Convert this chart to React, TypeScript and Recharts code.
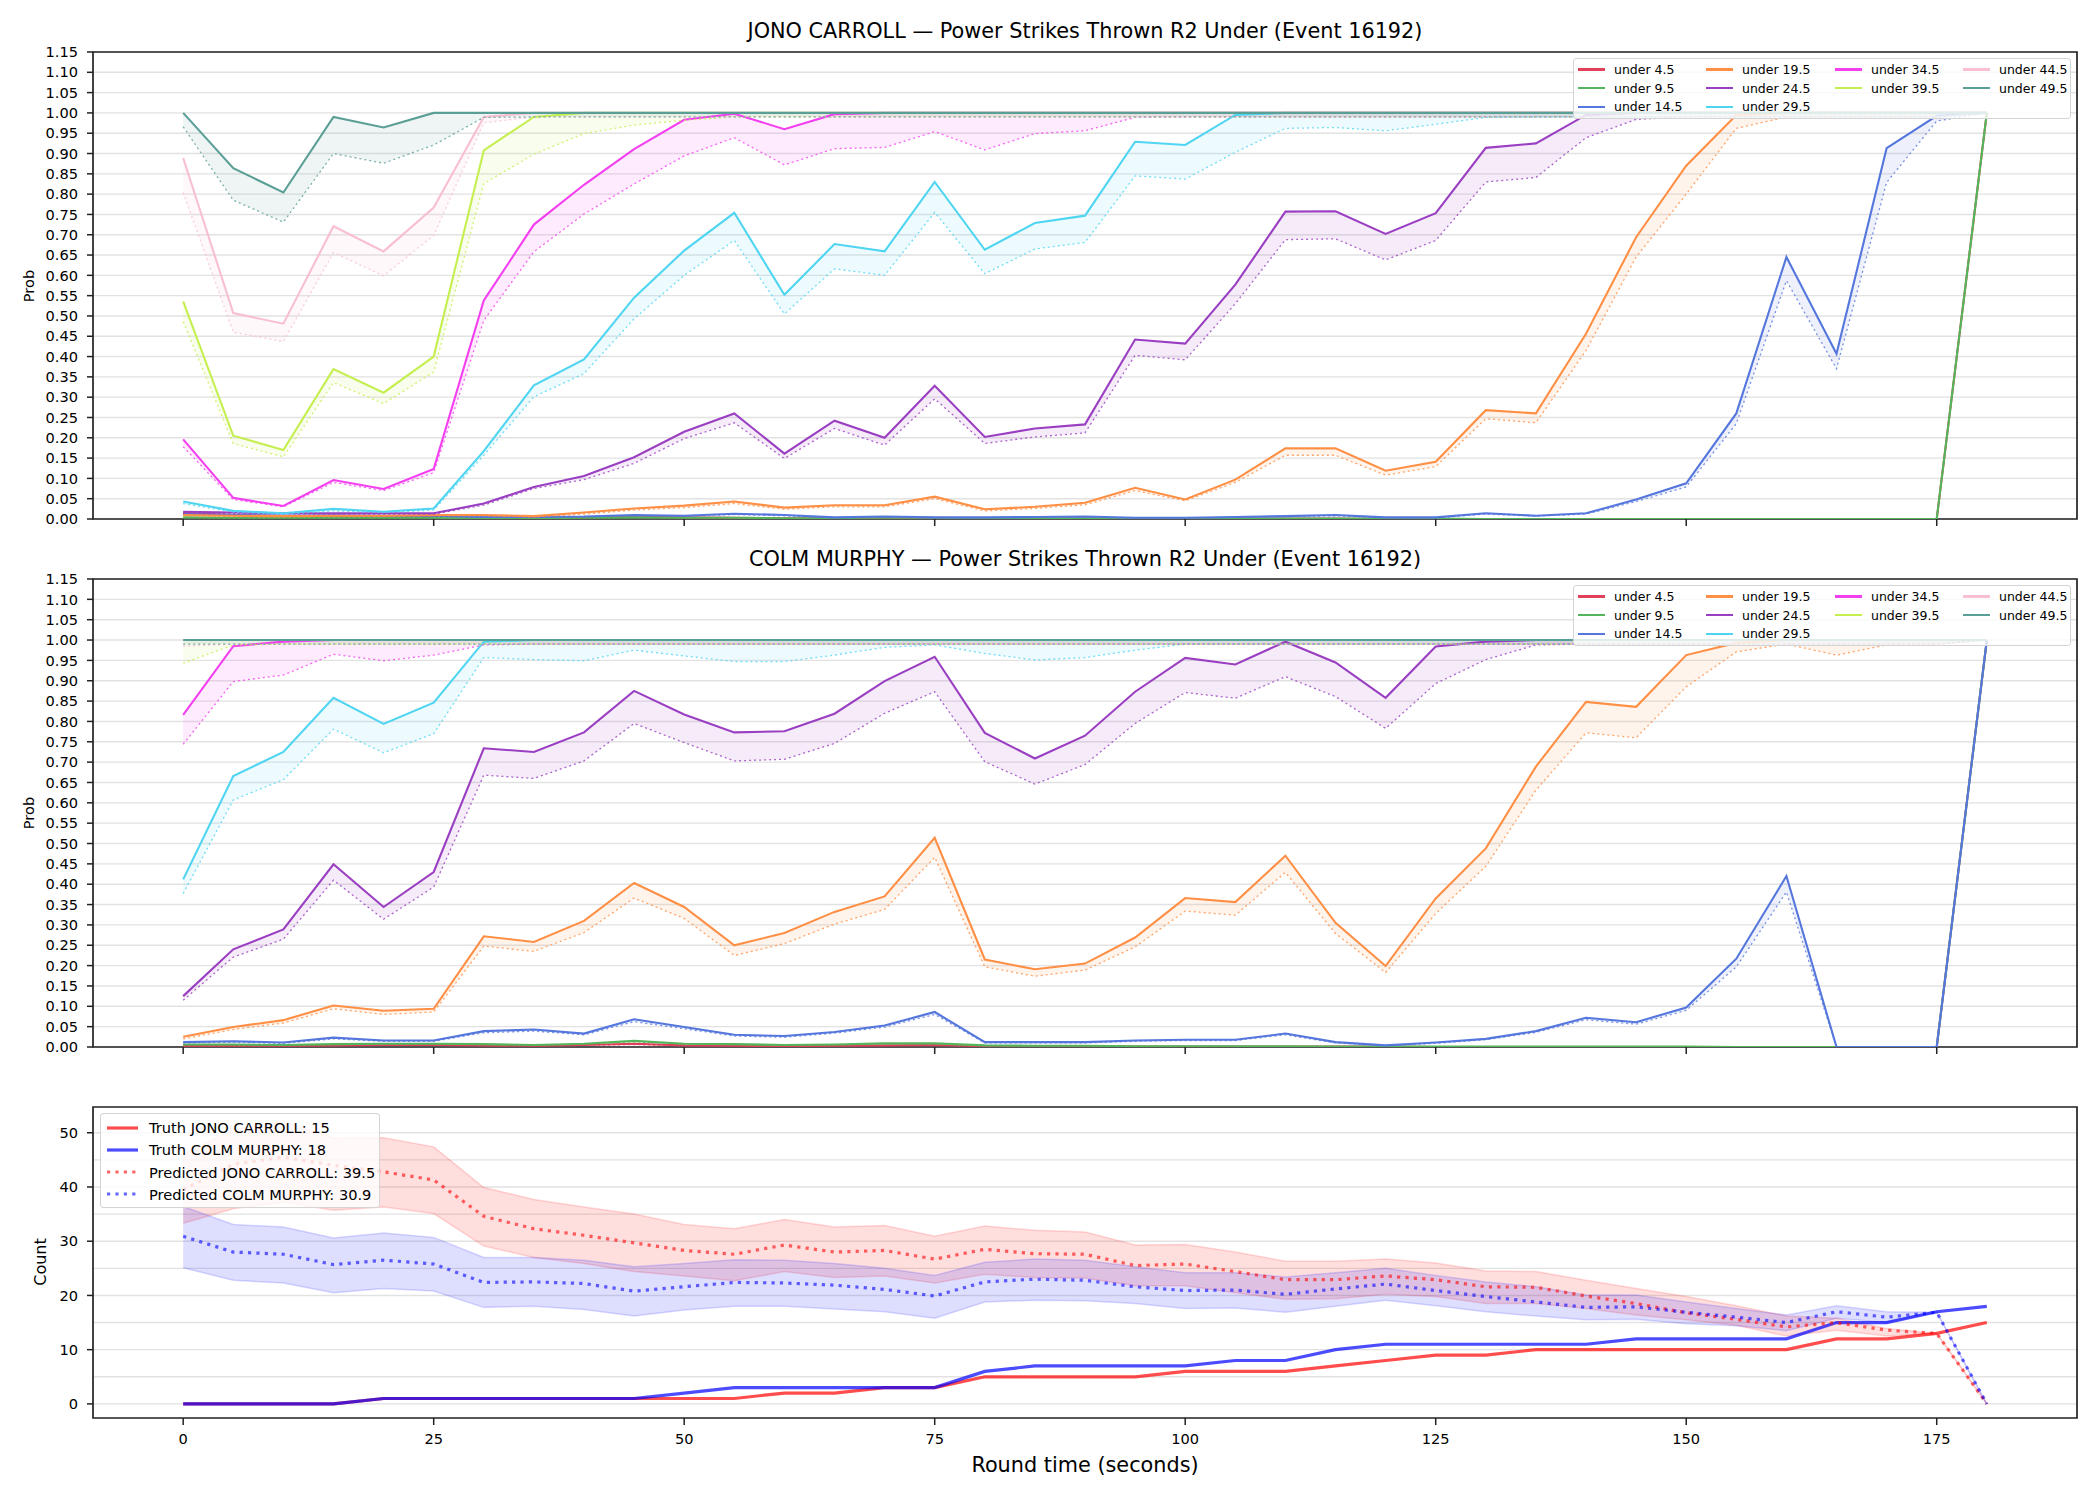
import React from 'react';
import { ComposedChart, Line, Area, XAxis, YAxis, CartesianGrid, ReferenceArea } from 'recharts';

const FONT = '"DejaVu Sans", Verdana, sans-serif';

// Round time (seconds)
const TIME = [
  0, 5, 10, 15, 20, 25, 30, 35, 40, 45,
  50, 55, 60, 65, 70, 75, 80, 85, 90, 95,
  100, 105, 110, 115, 120, 125, 130, 135, 140, 145,
  150, 155, 160, 165, 170, 175, 180,
];

const X_TICKS = [0, 25, 50, 75, 100, 125, 150, 175];
const PROB_TICKS = [0, 0.05, 0.1, 0.15, 0.2, 0.25, 0.3, 0.35, 0.4, 0.45, 0.5, 0.55, 0.6, 0.65, 0.7, 0.75, 0.8, 0.85, 0.9, 0.95, 1, 1.05, 1.1, 1.15];
const COUNT_TICKS = [0, 10, 20, 30, 40, 50];
const COUNT_GRID = [0, 5, 10, 15, 20, 25, 30, 35, 40, 45, 50];

const LINE_NAMES = ['under 4.5', 'under 9.5', 'under 14.5', 'under 19.5', 'under 24.5', 'under 29.5', 'under 34.5', 'under 39.5', 'under 44.5', 'under 49.5'];
const LINE_COLORS = ['#e23f5b', '#55b55a', '#5577dd', '#ff8f45', '#9a3fc2', '#4fd5f2', '#f43ff0', '#c4ef4f', '#f8bfd0', '#5a9f96'];

// ---------- JONO CARROLL: solid (s) and dotted (d) probability per threshold ----------
const jonoU4s = [
  0.015, 0.010, 0.007, 0.006, 0.005, 0.005, 0.004, 0.003, 0.004, 0.006,
  0.004, 0.003, 0.002, 0.002, 0.002, 0.002, 0.001, 0.001, 0.001, 0.001,
  0.001, 0.001, 0.001, 0.001, 0, 0, 0, 0, 0, 0,
  0, 0, 0, 0, 0, 0, 1,
];
const jonoU4d = [
  0.012, 0.008, 0.006, 0.005, 0.004, 0.004, 0.003, 0.002, 0.003, 0.005,
  0.003, 0.002, 0.002, 0.001, 0.001, 0.001, 0.001, 0.001, 0.001, 0.001,
  0, 0, 0, 0, 0, 0, 0, 0, 0, 0,
  0, 0, 0, 0, 0, 0, 1,
];
const jonoU9s = [
  0.004, 0.003, 0.003, 0.003, 0.003, 0.003, 0.002, 0.002, 0.003, 0.004,
  0.003, 0.003, 0.002, 0.002, 0.004, 0.003, 0.002, 0.002, 0.002, 0.001,
  0.001, 0.001, 0.001, 0.001, 0.001, 0.001, 0, 0, 0, 0,
  0, 0, 0, 0, 0, 0, 1,
];
const jonoU9d = [
  0.003, 0.002, 0.002, 0.002, 0.002, 0.002, 0.002, 0.001, 0.002, 0.003,
  0.002, 0.002, 0.001, 0.001, 0.003, 0.002, 0.001, 0.001, 0.001, 0.001,
  0, 0, 0, 0, 0, 0, 0, 0, 0, 0,
  0, 0, 0, 0, 0, 0, 1,
];
const jonoU14s = [
  0.012, 0.010, 0.008, 0.009, 0.008, 0.008, 0.005, 0.005, 0.006, 0.010,
  0.008, 0.013, 0.010, 0.004, 0.006, 0.004, 0.004, 0.005, 0.006, 0.003,
  0.003, 0.005, 0.007, 0.010, 0.004, 0.004, 0.014, 0.008, 0.014, 0.048,
  0.088, 0.260, 0.645, 0.407, 0.913, 0.993, 1,
];
const jonoU14d = [
  0.010, 0.008, 0.007, 0.007, 0.006, 0.006, 0.004, 0.004, 0.005, 0.008,
  0.007, 0.011, 0.008, 0.003, 0.005, 0.003, 0.003, 0.004, 0.005, 0.002,
  0.002, 0.004, 0.006, 0.008, 0.003, 0.003, 0.012, 0.007, 0.012, 0.043,
  0.079, 0.235, 0.587, 0.370, 0.829, 0.980, 1,
];
const jonoU19s = [
  0.010, 0.008, 0.007, 0.008, 0.008, 0.010, 0.010, 0.007, 0.016, 0.026,
  0.033, 0.043, 0.028, 0.034, 0.034, 0.055, 0.024, 0.030, 0.040, 0.077,
  0.048, 0.097, 0.174, 0.174, 0.119, 0.141, 0.268, 0.260, 0.456, 0.694,
  0.870, 0.995, 1, 1, 1, 1, 1,
];
const jonoU19d = [
  0.008, 0.006, 0.005, 0.006, 0.006, 0.008, 0.008, 0.005, 0.012, 0.022,
  0.028, 0.038, 0.024, 0.030, 0.030, 0.050, 0.020, 0.026, 0.035, 0.070,
  0.045, 0.090, 0.157, 0.157, 0.108, 0.129, 0.247, 0.237, 0.415, 0.645,
  0.800, 0.962, 0.990, 0.990, 0.990, 0.990, 1,
];
const jonoU24s = [
  0.018, 0.016, 0.014, 0.014, 0.014, 0.014, 0.038, 0.079, 0.106, 0.152,
  0.215, 0.260, 0.161, 0.242, 0.200, 0.328, 0.202, 0.223, 0.233, 0.442,
  0.432, 0.577, 0.757, 0.758, 0.702, 0.753, 0.914, 0.925, 0.995, 1,
  1, 1, 1, 1, 1, 1, 1,
];
const jonoU24d = [
  0.014, 0.013, 0.012, 0.012, 0.012, 0.012, 0.034, 0.075, 0.097, 0.137,
  0.198, 0.237, 0.149, 0.223, 0.182, 0.296, 0.186, 0.202, 0.212, 0.403,
  0.392, 0.530, 0.688, 0.690, 0.638, 0.686, 0.830, 0.841, 0.939, 0.984,
  0.990, 0.990, 0.990, 0.990, 0.990, 0.990, 1,
];
const jonoU29s = [
  0.043, 0.020, 0.014, 0.025, 0.018, 0.026, 0.167, 0.329, 0.393, 0.545,
  0.661, 0.754, 0.552, 0.677, 0.659, 0.830, 0.663, 0.729, 0.747, 0.929,
  0.921, 0.995, 1, 1, 1, 1, 1, 1, 1, 1,
  1, 1, 1, 1, 1, 1, 1,
];
const jonoU29d = [
  0.038, 0.017, 0.011, 0.020, 0.016, 0.022, 0.157, 0.301, 0.358, 0.493,
  0.600, 0.686, 0.505, 0.616, 0.600, 0.755, 0.604, 0.665, 0.681, 0.845,
  0.837, 0.903, 0.962, 0.964, 0.956, 0.972, 0.989, 0.990, 0.990, 0.990,
  0.990, 0.990, 0.990, 0.990, 0.990, 0.990, 1,
];
const jonoU34s = [
  0.196, 0.052, 0.032, 0.096, 0.074, 0.123, 0.538, 0.725, 0.823, 0.911,
  0.983, 0.998, 0.960, 0.997, 1, 1, 1, 1, 1, 1,
  1, 1, 1, 1, 1, 1, 1, 1, 1, 1,
  1, 1, 1, 1, 1, 1, 1,
];
const jonoU34d = [
  0.178, 0.048, 0.030, 0.090, 0.070, 0.114, 0.489, 0.658, 0.751, 0.825,
  0.894, 0.939, 0.872, 0.912, 0.915, 0.954, 0.909, 0.949, 0.956, 0.989,
  0.990, 0.990, 0.990, 0.990, 0.990, 0.990, 0.990, 0.990, 0.990, 0.990,
  0.990, 0.990, 0.990, 0.990, 0.990, 0.990, 1,
];
const jonoU39s = [
  0.536, 0.205, 0.170, 0.369, 0.311, 0.400, 0.908, 0.990, 1, 1,
  1, 1, 1, 1, 1, 1, 1, 1, 1, 1,
  1, 1, 1, 1, 1, 1, 1, 1, 1, 1,
  1, 1, 1, 1, 1, 1, 1,
];
const jonoU39d = [
  0.486, 0.186, 0.153, 0.336, 0.284, 0.362, 0.826, 0.898, 0.949, 0.970,
  0.982, 0.990, 0.990, 0.990, 0.990, 0.990, 0.990, 0.990, 0.990, 0.990,
  0.990, 0.990, 0.990, 0.990, 0.990, 0.990, 0.990, 0.990, 0.990, 0.990,
  0.990, 0.990, 0.990, 0.990, 0.990, 0.990, 1,
];
const jonoU44s = [
  0.889, 0.507, 0.481, 0.721, 0.659, 0.767, 0.990, 1, 1, 1,
  1, 1, 1, 1, 1, 1, 1, 1, 1, 1,
  1, 1, 1, 1, 1, 1, 1, 1, 1, 1,
  1, 1, 1, 1, 1, 1, 1,
];
const jonoU44d = [
  0.804, 0.460, 0.437, 0.656, 0.599, 0.698, 0.976, 0.990, 0.990, 0.990,
  0.990, 0.990, 0.990, 0.990, 0.990, 0.990, 0.990, 0.990, 0.990, 0.990,
  0.990, 0.990, 0.990, 0.990, 0.990, 0.990, 0.990, 0.990, 0.990, 0.990,
  0.990, 0.990, 0.990, 0.990, 0.990, 0.990, 1,
];
const jonoU49s = [
  1, 0.864, 0.804, 0.990, 0.964, 1, 1, 1, 1, 1,
  1, 1, 1, 1, 1, 1, 1, 1, 1, 1,
  1, 1, 1, 1, 1, 1, 1, 1, 1, 1,
  1, 1, 1, 1, 1, 1, 1,
];
const jonoU49d = [
  0.966, 0.785, 0.731, 0.900, 0.876, 0.921, 0.989, 0.990, 0.990, 0.990,
  0.990, 0.990, 0.990, 0.990, 0.990, 0.990, 0.990, 0.990, 0.990, 0.990,
  0.990, 0.990, 0.990, 0.990, 0.990, 0.990, 0.990, 0.990, 0.990, 0.990,
  0.990, 0.990, 0.990, 0.990, 0.990, 0.990, 1,
];

// ---------- COLM MURPHY ----------
const colmU4s = [
  0.003, 0.003, 0.003, 0.004, 0.005, 0.005, 0.004, 0.003, 0.005, 0.008,
  0.004, 0.003, 0.002, 0.003, 0.004, 0.005, 0.002, 0.001, 0.001, 0.001,
  0.001, 0.001, 0.001, 0.001, 0.001, 0, 0, 0, 0, 0,
  0, 0, 0, 0, 0, 0, 1,
];
const colmU4d = [
  0.002, 0.002, 0.002, 0.003, 0.004, 0.004, 0.003, 0.002, 0.004, 0.006,
  0.003, 0.002, 0.001, 0.002, 0.003, 0.004, 0.001, 0.001, 0.001, 0.001,
  0, 0, 0, 0, 0, 0, 0, 0, 0, 0,
  0, 0, 0, 0, 0, 0, 1,
];
const colmU9s = [
  0.006, 0.006, 0.005, 0.007, 0.008, 0.008, 0.007, 0.005, 0.008, 0.015,
  0.008, 0.007, 0.005, 0.006, 0.009, 0.009, 0.004, 0.003, 0.003, 0.002,
  0.002, 0.002, 0.002, 0.001, 0.001, 0.001, 0.001, 0.001, 0.001, 0.001,
  0.001, 0, 0, 0, 0, 0, 1,
];
const colmU9d = [
  0.005, 0.005, 0.004, 0.006, 0.007, 0.007, 0.006, 0.004, 0.007, 0.013,
  0.007, 0.006, 0.004, 0.005, 0.008, 0.008, 0.003, 0.002, 0.002, 0.002,
  0.001, 0.001, 0.001, 0.001, 0.001, 0, 0, 0, 0, 0,
  0, 0, 0, 0, 0, 0, 1,
];
const colmU14s = [
  0.012, 0.014, 0.011, 0.023, 0.016, 0.016, 0.039, 0.043, 0.033, 0.068,
  0.049, 0.030, 0.027, 0.037, 0.053, 0.086, 0.012, 0.012, 0.012, 0.016,
  0.018, 0.018, 0.033, 0.012, 0.004, 0.011, 0.020, 0.039, 0.072, 0.061,
  0.097, 0.217, 0.420, 0, 0, 0, 1,
];
const colmU14d = [
  0.010, 0.012, 0.009, 0.020, 0.014, 0.014, 0.035, 0.039, 0.030, 0.062,
  0.045, 0.027, 0.024, 0.034, 0.049, 0.080, 0.010, 0.010, 0.010, 0.014,
  0.016, 0.016, 0.030, 0.010, 0.003, 0.009, 0.018, 0.036, 0.067, 0.056,
  0.090, 0.197, 0.381, 0, 0, 0, 1,
];
const colmU19s = [
  0.025, 0.049, 0.066, 0.102, 0.089, 0.094, 0.272, 0.258, 0.310, 0.403,
  0.344, 0.250, 0.280, 0.332, 0.370, 0.514, 0.215, 0.191, 0.205, 0.269,
  0.366, 0.356, 0.470, 0.305, 0.199, 0.365, 0.488, 0.689, 0.848, 0.836,
  0.963, 0.993, 1, 1, 1, 1, 1,
];
const colmU19d = [
  0.020, 0.043, 0.059, 0.094, 0.080, 0.086, 0.248, 0.235, 0.281, 0.366,
  0.316, 0.225, 0.254, 0.302, 0.338, 0.466, 0.197, 0.174, 0.189, 0.246,
  0.334, 0.324, 0.429, 0.279, 0.183, 0.328, 0.444, 0.631, 0.772, 0.760,
  0.885, 0.971, 0.990, 0.963, 0.988, 0.990, 1,
];
const colmU24s = [
  0.125, 0.240, 0.289, 0.449, 0.344, 0.430, 0.734, 0.725, 0.773, 0.875,
  0.817, 0.773, 0.776, 0.819, 0.899, 0.959, 0.772, 0.709, 0.765, 0.873,
  0.956, 0.940, 0.996, 0.945, 0.858, 0.984, 0.996, 1, 1, 1,
  1, 1, 1, 1, 1, 1, 1,
];
const colmU24d = [
  0.115, 0.221, 0.265, 0.410, 0.314, 0.393, 0.668, 0.660, 0.703, 0.795,
  0.748, 0.703, 0.707, 0.746, 0.820, 0.873, 0.701, 0.646, 0.694, 0.795,
  0.871, 0.857, 0.910, 0.861, 0.783, 0.893, 0.952, 0.988, 0.990, 0.990,
  0.990, 0.990, 0.990, 0.990, 0.990, 0.990, 1,
];
const colmU29s = [
  0.412, 0.666, 0.725, 0.858, 0.794, 0.846, 0.996, 1, 1, 1,
  1, 1, 1, 1, 1, 1, 1, 1, 1, 1,
  1, 1, 1, 1, 1, 1, 1, 1, 1, 1,
  1, 1, 1, 1, 1, 1, 1,
];
const colmU29d = [
  0.377, 0.607, 0.657, 0.781, 0.723, 0.770, 0.957, 0.952, 0.949, 0.975,
  0.961, 0.947, 0.947, 0.963, 0.982, 0.988, 0.967, 0.951, 0.957, 0.975,
  0.990, 0.990, 0.990, 0.990, 0.990, 0.990, 0.990, 0.990, 0.990, 0.990,
  0.990, 0.990, 0.990, 0.990, 0.990, 0.990, 1,
];
const colmU34s = [
  0.816, 0.985, 0.996, 1, 1, 1, 1, 1, 1, 1,
  1, 1, 1, 1, 1, 1, 1, 1, 1, 1,
  1, 1, 1, 1, 1, 1, 1, 1, 1, 1,
  1, 1, 1, 1, 1, 1, 1,
];
const colmU34d = [
  0.744, 0.898, 0.914, 0.965, 0.949, 0.963, 0.988, 0.990, 0.990, 0.990,
  0.990, 0.990, 0.990, 0.990, 0.990, 0.990, 0.990, 0.990, 0.990, 0.990,
  0.990, 0.990, 0.990, 0.990, 0.990, 0.990, 0.990, 0.990, 0.990, 0.990,
  0.990, 0.990, 0.990, 0.990, 0.990, 0.990, 1,
];
const colmU39s = [
  1, 1, 1, 1, 1, 1, 1, 1, 1, 1,
  1, 1, 1, 1, 1, 1, 1, 1, 1, 1,
  1, 1, 1, 1, 1, 1, 1, 1, 1, 1,
  1, 1, 1, 1, 1, 1, 1,
];
const colmU39d = [
  0.943, 0.988, 0.990, 0.990, 0.990, 0.990, 0.990, 0.990, 0.990, 0.990,
  0.990, 0.990, 0.990, 0.990, 0.990, 0.990, 0.990, 0.990, 0.990, 0.990,
  0.990, 0.990, 0.990, 0.990, 0.990, 0.990, 0.990, 0.990, 0.990, 0.990,
  0.990, 0.990, 0.990, 0.990, 0.990, 0.990, 1,
];
const colmU44s = [
  1, 1, 1, 1, 1, 1, 1, 1, 1, 1,
  1, 1, 1, 1, 1, 1, 1, 1, 1, 1,
  1, 1, 1, 1, 1, 1, 1, 1, 1, 1,
  1, 1, 1, 1, 1, 1, 1,
];
const colmU44d = [
  0.985, 0.990, 0.990, 0.990, 0.990, 0.990, 0.990, 0.990, 0.990, 0.990,
  0.990, 0.990, 0.990, 0.990, 0.990, 0.990, 0.990, 0.990, 0.990, 0.990,
  0.990, 0.990, 0.990, 0.990, 0.990, 0.990, 0.990, 0.990, 0.990, 0.990,
  0.990, 0.990, 0.990, 0.990, 0.990, 0.990, 1,
];
const colmU49s = [
  1, 1, 1, 1, 1, 1, 1, 1, 1, 1,
  1, 1, 1, 1, 1, 1, 1, 1, 1, 1,
  1, 1, 1, 1, 1, 1, 1, 1, 1, 1,
  1, 1, 1, 1, 1, 1, 1,
];
const colmU49d = [
  0.990, 0.990, 0.990, 0.990, 0.990, 0.990, 0.990, 0.990, 0.990, 0.990,
  0.990, 0.990, 0.990, 0.990, 0.990, 0.990, 0.990, 0.990, 0.990, 0.990,
  0.990, 0.990, 0.990, 0.990, 0.990, 0.990, 0.990, 0.990, 0.990, 0.990,
  0.990, 0.990, 0.990, 0.990, 0.990, 0.990, 1,
];

// ---------- Counts ----------
const truthJono = [
  0, 0, 0, 0, 1, 1, 1, 1, 1, 1,
  1, 1, 2, 2, 3, 3, 5, 5, 5, 5,
  6, 6, 6, 7, 8, 9, 9, 10, 10, 10,
  10, 10, 10, 12, 12, 13, 15,
];
const truthColm = [
  0, 0, 0, 0, 1, 1, 1, 1, 1, 1,
  2, 3, 3, 3, 3, 3, 6, 7, 7, 7,
  7, 8, 8, 10, 11, 11, 11, 11, 11, 12,
  12, 12, 12, 15, 15, 17, 18,
];
const predJono = [
  39.5, 44.2, 45.5, 44.0, 42.8, 41.3, 34.6, 32.3, 31.1, 29.7,
  28.3, 27.6, 29.3, 28.0, 28.3, 26.7, 28.5, 27.7, 27.6, 25.5,
  25.8, 24.4, 22.9, 22.9, 23.6, 22.9, 21.6, 21.5, 19.9, 18.5,
  16.8, 15.6, 14.2, 15.0, 13.6, 13.0, 0,
];
const predJonoHigh = [
  46.0, 50.5, 52.1, 49.0, 49.1, 47.4, 39.9, 37.7, 36.3, 35.0,
  33.1, 32.3, 34.0, 32.6, 32.9, 30.9, 32.8, 32.0, 31.7, 29.3,
  29.4, 28.0, 26.3, 26.3, 26.7, 26.0, 24.5, 24.4, 22.8, 21.3,
  19.8, 18.1, 16.2, 15.8, 13.9, 13.0, 0,
];
const predJonoLow = [
  33.3, 36.0, 37.2, 35.7, 36.3, 35.1, 29.1, 27.0, 25.9, 24.4,
  23.6, 22.7, 24.4, 23.3, 23.6, 22.3, 23.9, 23.3, 23.2, 21.8,
  21.8, 20.5, 19.3, 19.4, 20.2, 19.8, 18.5, 18.5, 17.6, 16.4,
  15.5, 14.5, 12.5, 13.6, 12.5, 13.0, 0,
];
const predColm = [
  30.9, 28.0, 27.6, 25.7, 26.5, 25.8, 22.4, 22.5, 22.2, 20.8,
  21.6, 22.4, 22.3, 21.9, 21.1, 19.9, 22.5, 23.0, 22.8, 21.6,
  20.9, 21.0, 20.2, 21.2, 22.1, 20.9, 19.8, 18.8, 17.8, 17.9,
  16.9, 16.0, 15.0, 17.0, 16.0, 16.9, 0,
];
const predColmHigh = [
  36.4, 33.1, 32.6, 30.6, 31.5, 30.7, 27.0, 27.0, 26.5, 25.3,
  25.9, 26.6, 26.5, 25.9, 25.0, 23.7, 26.1, 26.7, 26.5, 25.3,
  24.2, 24.2, 23.4, 24.2, 25.0, 23.7, 22.5, 21.6, 20.1, 20.1,
  18.8, 17.6, 16.4, 18.1, 17.0, 16.9, 0,
];
const predColmLow = [
  25.1, 22.8, 22.3, 20.5, 21.3, 20.8, 17.8, 18.0, 17.4, 16.2,
  17.3, 18.0, 18.0, 17.5, 17.0, 15.8, 18.8, 19.1, 19.0, 18.5,
  17.6, 17.7, 16.9, 18.0, 19.1, 18.1, 17.0, 16.2, 15.5, 15.6,
  14.8, 14.4, 13.5, 15.8, 15.0, 16.9, 0,
];

const JONO_SOLID = [jonoU4s, jonoU9s, jonoU14s, jonoU19s, jonoU24s, jonoU29s, jonoU34s, jonoU39s, jonoU44s, jonoU49s];
const JONO_DOTTED = [jonoU4d, jonoU9d, jonoU14d, jonoU19d, jonoU24d, jonoU29d, jonoU34d, jonoU39d, jonoU44d, jonoU49d];
const COLM_SOLID = [colmU4s, colmU9s, colmU14s, colmU19s, colmU24s, colmU29s, colmU34s, colmU39s, colmU44s, colmU49s];
const COLM_DOTTED = [colmU4d, colmU9d, colmU14d, colmU19d, colmU24d, colmU29d, colmU34d, colmU39d, colmU44d, colmU49d];

function buildProbRows(solid: number[][], dotted: number[][]) {
  return TIME.map((t, i) => {
    const row: Record<string, any> = { t };
    solid.forEach((arr, k) => {
      row[`s${k}`] = arr[i];
      row[`d${k}`] = dotted[k][i];
      row[`b${k}`] = [dotted[k][i], arr[i]];
    });
    return row;
  });
}

const jonoRows = buildProbRows(JONO_SOLID, JONO_DOTTED);
const colmRows = buildProbRows(COLM_SOLID, COLM_DOTTED);
const countRows = TIME.map((t, i) => ({
  t,
  truthJono: truthJono[i],
  truthColm: truthColm[i],
  predJono: predJono[i],
  predColm: predColm[i],
  bandJono: [predJonoLow[i], predJonoHigh[i]],
  bandColm: [predColmLow[i], predColmHigh[i]],
}));

const PLOT_LEFT = 93;
const PLOT_RIGHT = 2077;
const X_DOMAIN: [number, number] = [-9, 189];
const TICK_STYLE = { fill: '#000', fontSize: 14.6, fontFamily: FONT };
const AXIS_STROKE = '#222';

function ProbLegend({ top }: { top: number }) {
  const colX = [4, 132, 261, 389];
  const rowY = [10.5, 29.2, 47.8];
  const placement = [[0, 0], [0, 1], [0, 2], [1, 0], [1, 1], [1, 2], [2, 0], [2, 1], [3, 0], [3, 1]];
  return (
    <div style={{ position: 'absolute', left: 1573, top, width: 498, height: 61, background: 'rgba(255,255,255,0.8)', border: '1px solid #d4d4d4', borderRadius: 3, boxSizing: 'border-box', fontFamily: FONT, fontSize: 12.5 }}>
      {LINE_NAMES.map((name, i) => {
        const [c, r] = placement[i];
        return (
          <div key={name} style={{ position: 'absolute', left: colX[c], top: rowY[r] - 8, height: 16, display: 'flex', alignItems: 'center', whiteSpace: 'nowrap', color: '#000' }}>
            <div style={{ width: 27, height: 2.2, background: LINE_COLORS[i], marginRight: 9 }} />
            <span>{name}</span>
          </div>
        );
      })}
    </div>
  );
}

function ProbPanel({ rows, top, marginTop, marginBottom, title, titleCenter, legendTop, labelCenter }: any) {
  return (
    <>
      <div style={{ position: 'absolute', left: 0, top }}>
        <ComposedChart width={2100} height={540} data={rows} margin={{ top: marginTop, right: 2100 - PLOT_RIGHT, bottom: marginBottom, left: 33 }}>
          <CartesianGrid vertical={false} horizontalValues={PROB_TICKS} stroke="#e2e2e2" strokeWidth={1.4} />
          <XAxis dataKey="t" type="number" domain={X_DOMAIN} ticks={X_TICKS} allowDataOverflow height={21} tickSize={7} tickFormatter={() => ''} axisLine={false} tickLine={{ stroke: AXIS_STROKE, strokeWidth: 1.5 }} />
          <YAxis type="number" domain={[0, 1.15]} ticks={PROB_TICKS} interval={0} allowDataOverflow width={60} tickSize={6} tickMargin={9} tickFormatter={(v: number) => v.toFixed(2)} axisLine={false} tickLine={{ stroke: AXIS_STROKE, strokeWidth: 1.5 }} tick={TICK_STYLE} />
          {LINE_NAMES.map((name, k) => [
            <Area key={`b${k}`} dataKey={`b${k}`} type="linear" stroke="none" fill={LINE_COLORS[k]} fillOpacity={0.1} dot={false} activeDot={false} isAnimationActive={false} />,
            <Line key={`s${k}`} dataKey={`s${k}`} name={name} type="linear" stroke={LINE_COLORS[k]} strokeWidth={2.1} dot={false} activeDot={false} isAnimationActive={false} />,
            <Line key={`d${k}`} dataKey={`d${k}`} type="linear" stroke={LINE_COLORS[k]} strokeOpacity={0.8} strokeWidth={1.3} strokeDasharray="2 3" dot={false} activeDot={false} isAnimationActive={false} />,
          ])}
          <ReferenceArea x1={X_DOMAIN[0]} x2={X_DOMAIN[1]} y1={0} y2={1.15} fill="none" fillOpacity={0} stroke={AXIS_STROKE} strokeWidth={1.7} ifOverflow="visible" />
        </ComposedChart>
      </div>
      <div style={{ position: 'absolute', left: PLOT_LEFT, width: PLOT_RIGHT - PLOT_LEFT, top: titleCenter - 13, height: 26, lineHeight: '26px', textAlign: 'center', fontFamily: FONT, fontSize: 20.8, color: '#000', whiteSpace: 'nowrap' }}>{title}</div>
      <div style={{ position: 'absolute', left: 28, top: labelCenter, transform: 'translate(-50%, -50%) rotate(-90deg)', fontFamily: FONT, fontSize: 14.6, color: '#000', whiteSpace: 'nowrap' }}>Prob</div>
      <ProbLegend top={legendTop} />
    </>
  );
}

function CountLegend() {
  const items = [
    { label: 'Truth JONO CARROLL: 15', color: '#ff0000', opacity: 0.7, dash: undefined },
    { label: 'Truth COLM MURPHY: 18', color: '#0000ff', opacity: 0.7, dash: undefined },
    { label: 'Predicted JONO CARROLL: 39.5', color: '#ff0000', opacity: 0.6, dash: '3.2 5.2' },
    { label: 'Predicted COLM MURPHY: 30.9', color: '#0000ff', opacity: 0.6, dash: '3.2 5.2' },
  ];
  return (
    <div style={{ position: 'absolute', left: 100, top: 1113, width: 280, height: 95, background: 'rgba(255,255,255,0.8)', border: '1px solid #d4d4d4', borderRadius: 3, boxSizing: 'border-box', fontFamily: FONT, fontSize: 14.6 }}>
      {items.map((it, i) => (
        <div key={it.label} style={{ position: 'absolute', left: 6, top: 13.7 + i * 22.2 - 10, height: 20, display: 'flex', alignItems: 'center', whiteSpace: 'nowrap', color: '#000' }}>
          <svg width={31} height={6} style={{ marginRight: 11 }}>
            <line x1={0} y1={3} x2={31} y2={3} stroke={it.color} strokeOpacity={it.opacity} strokeWidth={3.2} strokeDasharray={it.dash} />
          </svg>
          <span>{it.label}</span>
        </div>
      ))}
    </div>
  );
}

function CountPanel() {
  return (
    <>
      <div style={{ position: 'absolute', left: 0, top: 1080 }}>
        <ComposedChart width={2100} height={420} data={countRows} margin={{ top: 27, right: 2100 - PLOT_RIGHT, bottom: 42, left: 33 }}>
          <CartesianGrid vertical={false} horizontalValues={COUNT_GRID} stroke="#e2e2e2" strokeWidth={1.4} />
          <XAxis dataKey="t" type="number" domain={X_DOMAIN} ticks={X_TICKS} allowDataOverflow height={40} tickSize={7} tickMargin={9} axisLine={false} tickLine={{ stroke: AXIS_STROKE, strokeWidth: 1.5 }} tick={TICK_STYLE} />
          <YAxis type="number" domain={[-2.6, 54.75]} ticks={COUNT_TICKS} interval={0} allowDataOverflow width={60} tickSize={6} tickMargin={9} axisLine={false} tickLine={{ stroke: AXIS_STROKE, strokeWidth: 1.5 }} tick={TICK_STYLE} />
          <Area dataKey="bandJono" type="linear" stroke="#ff0000" strokeOpacity={0.15} strokeWidth={1.5} fill="#ff0000" fillOpacity={0.13} dot={false} activeDot={false} isAnimationActive={false} />
          <Area dataKey="bandColm" type="linear" stroke="#0000ff" strokeOpacity={0.15} strokeWidth={1.5} fill="#0000ff" fillOpacity={0.13} dot={false} activeDot={false} isAnimationActive={false} />
          <Line dataKey="truthJono" type="linear" stroke="#ff0000" strokeOpacity={0.7} strokeWidth={3.2} dot={false} activeDot={false} isAnimationActive={false} />
          <Line dataKey="truthColm" type="linear" stroke="#0000ff" strokeOpacity={0.7} strokeWidth={3.2} dot={false} activeDot={false} isAnimationActive={false} />
          <Line dataKey="predJono" type="linear" stroke="#ff0000" strokeOpacity={0.6} strokeWidth={3.2} strokeDasharray="3.2 5.2" dot={false} activeDot={false} isAnimationActive={false} />
          <Line dataKey="predColm" type="linear" stroke="#0000ff" strokeOpacity={0.6} strokeWidth={3.2} strokeDasharray="3.2 5.2" dot={false} activeDot={false} isAnimationActive={false} />
          <ReferenceArea x1={X_DOMAIN[0]} x2={X_DOMAIN[1]} y1={-2.6} y2={54.75} fill="none" fillOpacity={0} stroke={AXIS_STROKE} strokeWidth={1.7} ifOverflow="visible" />
        </ComposedChart>
      </div>
      <div style={{ position: 'absolute', left: 40, top: 1262, transform: 'translate(-50%, -50%) rotate(-90deg)', fontFamily: FONT, fontSize: 16, color: '#000', whiteSpace: 'nowrap' }}>Count</div>
      <div style={{ position: 'absolute', left: PLOT_LEFT, width: PLOT_RIGHT - PLOT_LEFT, top: 1452, height: 26, lineHeight: '26px', textAlign: 'center', fontFamily: FONT, fontSize: 20.8, color: '#000' }}>Round time (seconds)</div>
      <CountLegend />
    </>
  );
}

export default function App() {
  return (
    <div style={{ position: 'absolute', left: 0, top: 0, width: 2100, height: 1500, background: '#fff', overflow: 'hidden' }}>
      <ProbPanel rows={jonoRows} top={0} marginTop={52} marginBottom={0} title="JONO CARROLL — Power Strikes Thrown R2 Under (Event 16192)" titleCenter={31} legendTop={58} labelCenter={285.5} />
      <ProbPanel rows={colmRows} top={540} marginTop={39} marginBottom={12} title="COLM MURPHY — Power Strikes Thrown R2 Under (Event 16192)" titleCenter={558.5} legendTop={585} labelCenter={813} />
      <CountPanel />
    </div>
  );
}
